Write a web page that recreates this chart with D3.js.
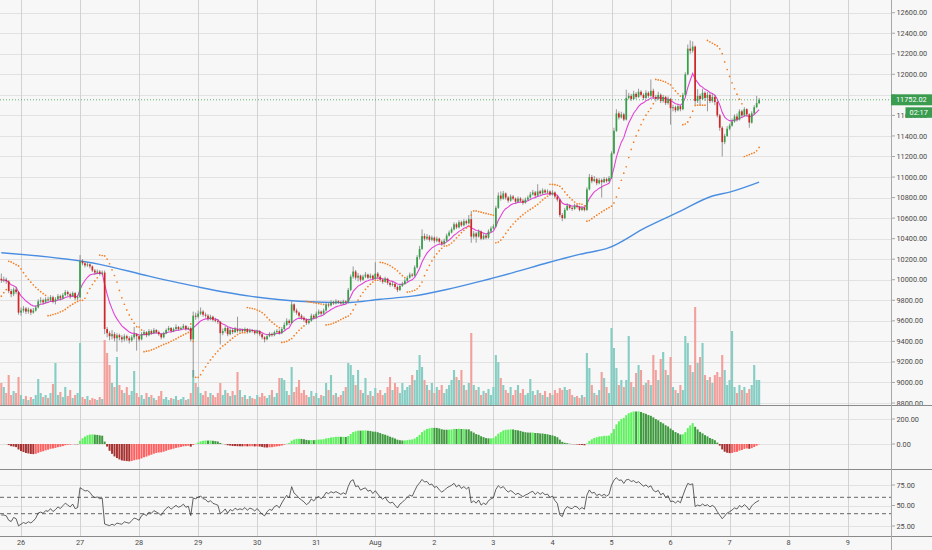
<!DOCTYPE html>
<html>
<head>
<meta charset="utf-8">
<script src="https://cdn.jsdelivr.net/npm/d3@7"></script>
<style>
  body { margin: 0; background: #f7f7f7; }
  svg { display: block; }
</style>
</head>
<body>
<script>
// hourly BTC/USD candles, Jul 25 16:00 -> Aug 7 12:00
const firstOpen = 10010;
const closes = [
  9995,10000,9985,9890,9860,9905,9880,9680,9700,9720,
  9690,9710,9680,9700,9730,9790,9800,9780,9810,9800,
  9830,9790,9810,9840,9820,9850,9880,9860,9840,9870,
  9820,9830,10180,10160,10140,10150,10130,10090,10070,10080,
  10060,10070,9520,9480,9450,9470,9430,9460,9440,9420,
  9450,9430,9410,9440,9470,9450,9420,9470,9490,9460,
  9500,9480,9510,9490,9470,9440,9480,9510,9530,9500,
  9520,9540,9520,9530,9550,9520,9530,9420,9650,9640,
  9670,9690,9660,9650,9620,9640,9610,9600,9590,9480,
  9500,9530,9470,9510,9490,9520,9500,9510,9500,9520,
  9490,9510,9500,9480,9500,9470,9440,9420,9450,9470,
  9460,9490,9500,9480,9520,9560,9600,9580,9760,9700,
  9680,9650,9630,9610,9580,9600,9650,9630,9670,9690,
  9670,9700,9760,9750,9780,9770,9790,9780,9770,9790,
  9780,9900,10030,10080,10020,10040,10000,10030,10050,10020,
  10040,10010,10060,10030,10000,9980,10010,9970,9950,9960,
  9930,9900,9940,9960,9990,10020,10050,10040,10120,10220,
  10300,10425,10400,10420,10390,10410,10380,10400,10370,10350,
  10380,10430,10460,10490,10540,10510,10560,10530,10570,10550,
  10590,10420,10450,10420,10470,10400,10430,10410,10470,10500,
  10520,10700,10820,10790,10840,10800,10770,10810,10790,10760,
  10790,10770,10750,10780,10800,10830,10850,10820,10860,10840,
  10870,10850,10860,10830,10850,10810,10780,10630,10600,10680,
  10720,10700,10690,10720,10710,10680,10700,10680,10880,11000,
  10960,10980,10940,10970,10950,10980,10960,10990,11230,11450,
  11620,11580,11610,11560,11770,11790,11760,11810,11780,11830,
  11800,11770,11820,11790,11840,11780,11760,11800,11740,11780,
  11720,11760,11670,11680,11650,11690,11660,11800,12000,12250,
  12230,12270,11740,11790,11760,11820,11770,11800,11740,11780,
  11730,11600,11480,11340,11400,11470,11500,11540,11590,11560,
  11640,11600,11660,11610,11530,11620,11680,11720,11752.02
];
const highs = [
  10060,10030,10020,9995,9910,9925,9930,9890,9730,9745,
  9735,9730,9720,9725,9750,9810,9830,9815,9830,9835,
  9850,9845,9830,9860,9855,9870,9900,9895,9875,9885,
  9880,9850,10240,10200,10175,10170,10160,10140,10105,10100,
  10095,10090,10090,9540,9500,9510,9490,9480,9475,9460,
  9470,9465,9450,9460,9540,9480,9460,9490,9510,9500,
  9520,9515,9530,9520,9505,9480,9495,9525,9550,9540,
  9535,9565,9550,9545,9570,9560,9545,9545,9690,9680,
  9700,9730,9705,9680,9665,9660,9650,9630,9615,9600,
  9525,9550,9545,9530,9525,9540,9640,9530,9525,9535,
  9530,9525,9520,9515,9515,9510,9480,9450,9465,9490,
  9485,9505,9520,9515,9540,9585,9625,9615,9790,9770,
  9720,9690,9665,9645,9625,9620,9670,9665,9690,9710,
  9700,9720,9780,9775,9800,9795,9810,9800,9795,9805,
  9800,9920,10050,10130,10095,10065,10050,10050,10075,10060,
  10060,10050,10170,10075,10045,10015,10030,10020,9985,9980,
  9970,9945,9955,9980,10010,10040,10070,10065,10140,10240,
  10330,10490,10450,10445,10435,10430,10420,10420,10410,10385,
  10400,10450,10480,10510,10560,10555,10580,10575,10590,10585,
  10630,10670,10475,10465,10490,10480,10450,10445,10490,10520,
  10540,10720,10850,10860,10865,10850,10815,10830,10825,10800,
  10810,10805,10785,10800,10820,10855,10875,10865,10930,10875,
  10890,10885,10880,10870,10870,10860,10825,10790,10650,10700,
  10745,10735,10715,10740,10735,10720,10715,10710,10900,11030,
  11020,11010,10995,10990,10985,11000,10995,11010,11250,11480,
  11660,11640,11635,11625,11850,11820,11810,11840,11825,11860,
  11845,11815,11845,11835,11950,11860,11800,11830,11815,11800,
  11790,11785,11770,11705,11695,11710,11700,11820,12020,12290,
  12330,12320,12280,11855,11810,11860,11835,11830,11820,11810,
  11800,11745,11615,11495,11420,11495,11520,11570,11610,11620,
  11660,11655,11680,11670,11620,11640,11700,11790,11770
];
const lows = [
  9970,9975,9960,9870,9830,9840,9860,9660,9650,9680,
  9665,9670,9655,9670,9690,9720,9770,9760,9770,9785,
  9790,9770,9760,9800,9800,9810,9840,9840,9815,9830,
  9800,9800,9820,10140,10120,10125,10110,10075,10050,10055,
  10040,10045,9470,9440,9410,9420,9400,9300,9410,9390,
  9400,9405,9380,9395,9420,9310,9400,9410,9455,9440,
  9450,9465,9470,9475,9455,9420,9430,9470,9500,9490,
  9490,9510,9505,9510,9520,9505,9510,9400,9050,9610,
  9625,9655,9640,9630,9600,9605,9590,9585,9570,9370,
  9460,9485,9450,9460,9470,9480,9485,9490,9485,9490,
  9475,9480,9485,9465,9470,9450,9420,9390,9410,9440,
  9445,9450,9480,9465,9470,9510,9550,9560,9570,9680,
  9660,9630,9610,9590,9560,9565,9590,9615,9620,9655,
  9650,9660,9690,9730,9740,9755,9760,9765,9755,9760,
  9765,9770,9890,10010,10000,9985,9980,9990,10015,10005,
  10010,9995,10000,10015,9980,9960,9970,9950,9930,9935,
  9910,9880,9890,9930,9950,9980,10010,10025,10030,10110,
  10200,10290,10380,10385,10370,10375,10360,10365,10350,10330,
  10340,10370,10420,10450,10480,10495,10500,10515,10520,10535,
  10540,10360,10400,10360,10410,10385,10390,10395,10400,10460,
  10490,10510,10690,10770,10780,10780,10750,10760,10775,10740,
  10750,10755,10730,10740,10770,10790,10820,10805,10810,10825,
  10830,10835,10840,10815,10820,10790,10760,10610,10570,10590,
  10670,10685,10670,10680,10695,10665,10670,10665,10670,10870,
  10940,10950,10920,10930,10800,10940,10945,10950,10980,11220,
  11440,11560,11570,11545,11550,11755,11740,11750,11760,11770,
  11785,11750,11760,11770,11780,11760,11735,11750,11720,11725,
  11700,11705,11510,11640,11630,11640,11640,11650,11790,11990,
  12200,12210,11700,11720,11700,11750,11740,11640,11720,11725,
  11700,11580,11450,11200,11320,11390,11455,11490,11530,11540,
  11550,11580,11590,11590,11480,11520,11610,11670,11710
];
const volumes = [
  2200,1800,1200,3000,1000,1400,1200,2800,1000,600,
  900,500,800,600,1000,2600,1200,800,1000,700,
  1200,2100,4200,1000,1300,800,1800,900,1500,700,
  1000,1200,6200,800,600,900,500,700,600,500,
  800,600,6500,5200,4000,2200,1800,4800,2000,1500,
  1200,1800,1000,1400,3400,1200,800,1000,600,1200,
  800,1000,700,500,900,1400,600,800,500,700,
  600,900,500,600,800,500,600,1200,3500,2200,
  1800,1200,1000,1400,800,1200,1000,800,1200,2200,
  1000,1500,1200,900,1400,1000,3300,1500,800,1000,
  600,900,700,600,1000,800,1200,900,700,1000,
  1500,800,1200,2700,2700,2500,1400,1000,3800,1300,
  1800,2500,1200,1500,1000,800,1400,900,1200,700,
  1000,900,2200,1500,3000,1000,1200,800,1000,1400,
  1800,4200,4000,3000,2000,3500,1500,1200,2700,1000,
  1400,900,1700,1200,1500,1000,1200,1800,2800,1500,
  2200,1800,1200,2200,1500,1800,2000,3000,2500,3500,
  5000,3800,2500,2000,1500,2200,1200,1800,1500,2000,
  1200,1600,2000,2500,3500,2800,2500,3500,2000,1500,
  2200,7200,2000,1500,1800,1000,1400,1200,1600,1000,
  1800,5000,4300,2700,2000,1500,1200,1800,1000,1500,
  2000,1200,1600,1000,1200,2600,1400,1000,1500,1200,
  1000,1400,800,1200,1000,1500,1200,1700,1500,1800,
  1500,1600,1000,800,900,700,1000,800,5200,3700,
  2000,1200,1000,1500,3300,2700,1800,1200,7700,5700,
  3700,2000,2500,1800,2500,6900,2300,1800,3200,4000,
  3500,2000,2200,2500,2000,5000,3500,2500,4600,5300,
  3500,3000,4800,1800,1500,1200,2000,1500,6900,6200,
  4000,3300,9800,4200,4800,6200,3000,2500,2800,2200,
  3000,3300,2800,5000,3500,2000,2500,7400,1800,1200,
  2000,1500,1800,1200,1600,2000,4000,2500,2500
];

// long moving average (blue), read at a few candles
const maIdx = [0, 40, 60, 81, 101, 121, 140, 154, 167, 181, 195, 208, 222, 235, 247, 262, 276, 289, 296, 308];
const maVal = [10263, 10150, 10035, 9925, 9840, 9790, 9777, 9810, 9840, 9905, 9987, 10070, 10165, 10247, 10312, 10510, 10668, 10815, 10853, 10950];

const priceTicks = [8800, 9000, 9200, 9400, 9600, 9800, 10000, 10200, 10400, 10600, 10800, 11000, 11200, 11400, 11600, 11800, 12000, 12200, 12400, 12600];
const macdTicks = [0, 200];
const rsiTicks = [25, 50, 75];
const rsiBands = [40, 60];
const dayLabels = ["26", "27", "28", "29", "30", "31", "Aug", "2", "3", "4", "5", "6", "7", "8", "9"];
const countdown = "02:17";

const W = 932, H = 550, plotRight = 891;
const t0 = Date.UTC(2019, 6, 25, 16);
const times = closes.map((c, i) => new Date(t0 + i * 3600e3));
const opens = closes.map((c, i) => i ? closes[i - 1] : firstOpen);
const days = d3.utcDay.range(new Date(Date.UTC(2019, 6, 26)), new Date(Date.UTC(2019, 7, 10)));

const x = d3.scaleUtc()
    .domain([new Date(Date.UTC(2019, 6, 26)), new Date(Date.UTC(2019, 7, 9))])
    .range([21, 847.7]);
const yPrice = d3.scaleLinear().domain([8800, 12600]).range([403, 12.7]);
const yVol = d3.scaleLinear().domain([0, 10000]).range([405, 305]);
const yMacd = d3.scaleLinear().domain([0, 200]).range([444, 419]);
const yRsi = d3.scaleLinear().domain([25, 75]).range([526, 485]);

// indicators from the candles
function ema(src, n) {
  const k = 2 / (n + 1);
  let e = src[0];
  return src.map((v, i) => i === 0 ? e : (e = v * k + e * (1 - k)));
}
const ema9 = ema(closes, 9);
// "MACD 4C": the fast-slow EMA difference drawn as four-colour columns
const macd = d3.zip(ema(closes, 12), ema(closes, 26)).map(([a, b]) => a - b);

const rsi = (() => {
  const ch = closes.slice(1).map((c, i) => c - closes[i]);
  // seed the Wilder averages from the first two days of moves
  let ag = d3.mean(ch.slice(0, 48), d => Math.max(d, 0));
  let al = d3.mean(ch.slice(0, 48), d => Math.max(-d, 0));
  const out = [];
  ch.forEach(d => {
    ag = (ag * 13 + Math.max(d, 0)) / 14;
    al = (al * 13 + Math.max(-d, 0)) / 14;
    out.push(100 - 100 / (1 + ag / al));
  });
  return [out[0], ...out];
})();

const sar = (() => {
  // trend state carried in from before the first visible candle
  let up = true, af = 0.1, ep = 10180, s = 9840;
  const out = [];
  for (let i = 0; i < closes.length; i++) {
    if (i > 0) {
      s = s + af * (ep - s);
      const p = i > 1 ? i - 2 : i - 1;
      s = up ? Math.min(s, lows[i - 1], lows[p]) : Math.max(s, highs[i - 1], highs[p]);
    }
    if (up && lows[i] < s) { up = false; s = ep; ep = lows[i]; af = 0.02; }
    else if (!up && highs[i] > s) { up = true; s = ep; ep = highs[i]; af = 0.02; }
    else if (up && highs[i] > ep) { ep = highs[i]; af = Math.min(af + 0.02, 0.2); }
    else if (!up && lows[i] < ep) { ep = lows[i]; af = Math.min(af + 0.02, 0.2); }
    out.push(s);
  }
  return out;
})();

const svg = d3.select("body").append("svg")
    .attr("width", W).attr("height", H)
    .style("font-family", "Roboto, 'Liberation Sans', sans-serif")
    .style("font-size", "7.3px");

svg.append("rect").attr("width", W).attr("height", H).attr("fill", "#f7f7f7");

const defs = svg.append("defs");
[["clipMain", 0, 405, plotRight], ["clipMacd", 405, 469, plotRight], ["clipRsi", 469, 536, plotRight], ["clipAxis", 0, 405, W]]
  .forEach(([id, y0, y1, w]) => defs.append("clipPath").attr("id", id)
    .append("rect").attr("x", 0).attr("y", y0).attr("width", w).attr("height", y1 - y0));

// grid
const grid = svg.append("g").attr("stroke-width", 1);
grid.selectAll(".hp").data(priceTicks).join("line")
    .attr("x1", 0).attr("x2", plotRight)
    .attr("y1", d => Math.round(yPrice(d)) + 0.5).attr("y2", d => Math.round(yPrice(d)) + 0.5)
    .attr("stroke", "#e2e2e2");
grid.selectAll(".hm").data(macdTicks).join("line")
    .attr("x1", 0).attr("x2", plotRight)
    .attr("y1", d => Math.round(yMacd(d)) + 0.5).attr("y2", d => Math.round(yMacd(d)) + 0.5)
    .attr("stroke", "#e2e2e2");
grid.selectAll(".hr").data(rsiTicks).join("line")
    .attr("x1", 0).attr("x2", plotRight)
    .attr("y1", d => Math.round(yRsi(d)) + 0.5).attr("y2", d => Math.round(yRsi(d)) + 0.5)
    .attr("stroke", "#e2e2e2");
grid.selectAll(".v").data(days).join("line")
    .attr("x1", d => Math.round(x(d)) + 0.5).attr("x2", d => Math.round(x(d)) + 0.5)
    .attr("y1", 0).attr("y2", 536)
    .attr("stroke", "#d2d2d2");

// main pane
const main = svg.append("g").attr("clip-path", "url(#clipMain)");

main.append("g").selectAll("rect").data(volumes).join("rect")
    .attr("x", (d, i) => x(times[i]) - 1.05)
    .attr("width", 2.1)
    .attr("y", d => yVol(d))
    .attr("height", d => yVol(0) - yVol(d))
    .attr("fill", (d, i) => closes[i] >= opens[i] ? "#86cdc3" : "#f2a09b");

main.append("path")
    .datum(d3.zip(maIdx, maVal))
    .attr("fill", "none")
    .attr("stroke", "#4a8ee2")
    .attr("stroke-width", 1.4)
    .attr("d", d3.line().x(d => x(times[d[0]])).y(d => yPrice(d[1])).curve(d3.curveMonotoneX));

main.append("path")
    .datum(ema9)
    .attr("fill", "none")
    .attr("stroke", "#e342d6")
    .attr("stroke-width", 1.1)
    .attr("d", d3.line().x((d, i) => x(times[i])).y(d => yPrice(d)));

const candle = main.append("g").selectAll("g").data(closes).join("g");
candle.append("line")
    .attr("x1", (d, i) => x(times[i])).attr("x2", (d, i) => x(times[i]))
    .attr("y1", (d, i) => yPrice(highs[i])).attr("y2", (d, i) => yPrice(lows[i]))
    .attr("stroke", "#707070").attr("stroke-width", 0.7);
candle.append("rect")
    .attr("x", (d, i) => x(times[i]) - 0.85)
    .attr("width", 1.7)
    .attr("y", (d, i) => yPrice(Math.max(d, opens[i])))
    .attr("height", (d, i) => Math.max(0.8, Math.abs(yPrice(d) - yPrice(opens[i]))))
    .attr("fill", (d, i) => d >= opens[i] ? "#34a047" : "#d32525");

main.append("g").selectAll("circle").data(sar).join("circle")
    .attr("cx", (d, i) => x(times[i]))
    .attr("cy", d => yPrice(d))
    .attr("r", 0.85)
    .attr("fill", "#f57d1f");

const last = closes[closes.length - 1];
const yLast = yPrice(last);
svg.append("line")
    .attr("x1", 0).attr("x2", plotRight)
    .attr("y1", yLast).attr("y2", yLast)
    .attr("stroke", "#3c9c50").attr("stroke-dasharray", "1,2").attr("stroke-width", 0.8);

// MACD 4C columns
svg.append("g").attr("clip-path", "url(#clipMacd)")
  .selectAll("rect").data(macd).join("rect")
    .attr("x", (d, i) => x(times[i]) - 1)
    .attr("width", 2)
    .attr("y", d => Math.min(yMacd(d), yMacd(0)))
    .attr("height", d => Math.abs(yMacd(d) - yMacd(0)))
    .attr("fill", (d, i) => {
      const rising = i === 0 || d >= macd[i - 1];
      if (d >= 0) return rising ? "#5ef25e" : "#3f9a3f";
      return rising ? "#ff6060" : "#a83232";
    });

// RSI
const rsiG = svg.append("g").attr("clip-path", "url(#clipRsi)");
rsiG.selectAll("line").data(rsiBands).join("line")
    .attr("x1", 0).attr("x2", plotRight)
    .attr("y1", d => yRsi(d)).attr("y2", d => yRsi(d))
    .attr("stroke", "#555").attr("stroke-width", 0.9).attr("stroke-dasharray", "4,3");
rsiG.append("path")
    .datum(rsi)
    .attr("fill", "none")
    .attr("stroke", "#3a3a3a")
    .attr("stroke-width", 0.8)
    .attr("d", d3.line().x((d, i) => x(times[i])).y(d => yRsi(d)));

// pane borders and price axis
svg.selectAll(".sep").data([405, 469, 536]).join("line")
    .attr("x1", 0).attr("x2", W)
    .attr("y1", d => d + 0.5).attr("y2", d => d + 0.5)
    .attr("stroke", "#8a8a8a");
svg.append("line")
    .attr("x1", plotRight + 0.5).attr("x2", plotRight + 0.5)
    .attr("y1", 0).attr("y2", H)
    .attr("stroke", "#a8a8a8");

// price labels under the last-price box are hidden, as in the app
const covered = v => Math.abs(yPrice(v) - yLast) < 6;
const tickRows = [
  ...priceTicks.map(v => ({ y: yPrice(v), t: v.toFixed(2), clip: true, hide: covered(v) })),
  ...macdTicks.map(v => ({ y: yMacd(v), t: v.toFixed(2) })),
  ...rsiTicks.map(v => ({ y: yRsi(v), t: v.toFixed(2) }))
];
const axis = svg.append("g").attr("fill", "#4a4a4a");
axis.selectAll("line").data(tickRows).join("line")
    .attr("x1", plotRight).attr("x2", plotRight + 4)
    .attr("y1", d => d.y).attr("y2", d => d.y)
    .attr("stroke", "#a8a8a8");
axis.selectAll("text").data(tickRows.filter(d => !d.hide)).join("text")
    .attr("clip-path", d => d.clip ? "url(#clipAxis)" : null)
    .attr("x", plotRight + 5.5)
    .attr("y", d => d.y)
    .attr("dy", "0.35em")
    .text(d => d.t);

svg.append("g").attr("fill", "#4a4a4a").attr("text-anchor", "middle")
  .selectAll("text").data(days).join("text")
    .attr("x", d => x(d))
    .attr("y", 542)
    .attr("dy", "0.35em")
    .text((d, i) => dayLabels[i]);

// last price and countdown labels
svg.append("rect")
    .attr("x", plotRight).attr("y", yLast - 5.5).attr("width", W - plotRight).attr("height", 11)
    .attr("fill", "#3a9c4f");
svg.append("text")
    .attr("x", plotRight + 5).attr("y", yLast).attr("dy", "0.35em")
    .attr("fill", "#fff")
    .text(last.toFixed(2));
svg.append("rect")
    .attr("x", 905.5).attr("y", yLast + 7.5).attr("width", W - 905.5).attr("height", 10.5)
    .attr("fill", "#3a9c4f");
svg.append("text")
    .attr("x", 918.7).attr("y", yLast + 12.7).attr("dy", "0.35em")
    .attr("text-anchor", "middle")
    .attr("fill", "#fff")
    .text(countdown);
</script>
</body>
</html>
